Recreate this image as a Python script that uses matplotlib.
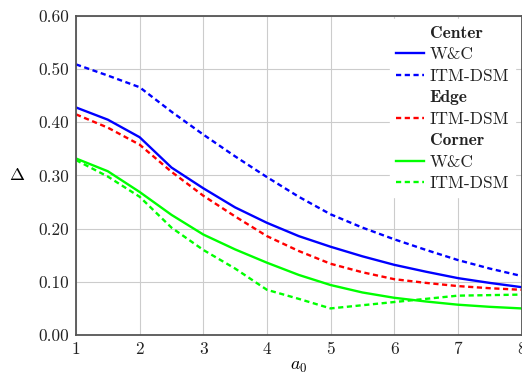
import matplotlib
matplotlib.use("Agg")
import matplotlib.pyplot as plt
from matplotlib.lines import Line2D

plt.rcParams['font.family'] = ['cmr10', 'DejaVu Serif']
plt.rcParams['mathtext.fontset'] = 'cm'
plt.rcParams['axes.formatter.use_mathtext'] = True

x = [1, 1.5, 2, 2.5, 3, 3.5, 4, 4.5, 5, 5.5, 6, 6.5, 7, 7.5, 8]
center_wc = [0.428, 0.405, 0.372, 0.315, 0.276, 0.240, 0.211, 0.186, 0.166, 0.148, 0.132, 0.119, 0.107, 0.098, 0.090]
center_itm = [0.509, 0.488, 0.466, 0.420, 0.377, 0.336, 0.297, 0.260, 0.227, 0.202, 0.180, 0.160, 0.141, 0.125, 0.111]
edge_itm = [0.415, 0.390, 0.358, 0.307, 0.262, 0.223, 0.186, 0.158, 0.134, 0.118, 0.105, 0.098, 0.092, 0.088, 0.085]
corner_wc = [0.332, 0.308, 0.269, 0.226, 0.189, 0.161, 0.136, 0.113, 0.094, 0.080, 0.070, 0.063, 0.057, 0.053, 0.050]
corner_itm = [0.329, 0.298, 0.260, 0.202, 0.160, 0.125, 0.085, 0.068, 0.050, 0.056, 0.062, 0.068, 0.074, 0.075, 0.076]

xticks = [1, 2, 3, 4, 5, 6, 7, 8]
yticks = [0.0, 0.1, 0.2, 0.3, 0.4, 0.5, 0.6]
ytick_labels = ['0.00', '0.10', '0.20', '0.30', '0.40', '0.50', '0.60']

BLUE = '#0000ff'
RED = '#ff0000'
GREEN = '#00ff00'
dash = (0, (2.2, 1.5))
lw = 1.7

fig = plt.figure(figsize=(5.22, 3.76), dpi=100)
ax = fig.add_axes([76 / 522, (376 - 335) / 376, (521.5 - 76) / 522, (335 - 16) / 376])

ax.plot(x, center_wc, color=BLUE, lw=lw)
ax.plot(x, center_itm, color=BLUE, lw=lw, linestyle=dash)
ax.plot(x, edge_itm, color=RED, lw=lw, linestyle=dash)
ax.plot(x, corner_wc, color=GREEN, lw=lw)
ax.plot(x, corner_itm, color=GREEN, lw=lw, linestyle=dash)

ax.set_xlim(1, 8)
ax.set_ylim(0, 0.6)
ax.set_xticks(xticks)
ax.set_xticklabels([str(t) for t in xticks])
ax.set_yticks(yticks)
ax.set_yticklabels(ytick_labels)
ax.tick_params(length=0, labelsize=12.5, colors='#222222', pad=5)
ax.grid(True, color='#cccccc', lw=0.8)
ax.set_axisbelow(True)
for s in ['left', 'bottom', 'top', 'right']:
    ax.spines[s].set_color('#555555')
    ax.spines[s].set_linewidth(1.3)

ax.set_xlabel(r'$a_0$', fontsize=13, labelpad=2)
ax.set_ylabel(r'$\Delta$', fontsize=13, rotation=0, labelpad=15, va='center')

blank = Line2D([], [], linestyle='none')
handles = [blank,
           Line2D([], [], color=BLUE, lw=lw),
           Line2D([], [], color=BLUE, lw=lw, linestyle=dash),
           blank,
           Line2D([], [], color=RED, lw=lw, linestyle=dash),
           blank,
           Line2D([], [], color=GREEN, lw=lw),
           Line2D([], [], color=GREEN, lw=lw, linestyle=dash)]
labels = ['Center', 'W&C', 'ITM-DSM', 'Edge', 'ITM-DSM', 'Corner', 'W&C', 'ITM-DSM']
leg = ax.legend(handles, labels, loc='upper right', bbox_to_anchor=(0.99, 0.995),
                fontsize=12.5, frameon=True, facecolor='white', edgecolor='white',
                framealpha=1, fancybox=False, handlelength=1.6, handletextpad=0.35,
                labelspacing=0.36, borderpad=0.35, borderaxespad=0.1)
for t in leg.get_texts():
    if t.get_text() in ('Center', 'Edge', 'Corner'):
        t.set_fontfamily('cmb10')
    t.set_color('#222222')

fig.savefig('out.png', dpi=100)
